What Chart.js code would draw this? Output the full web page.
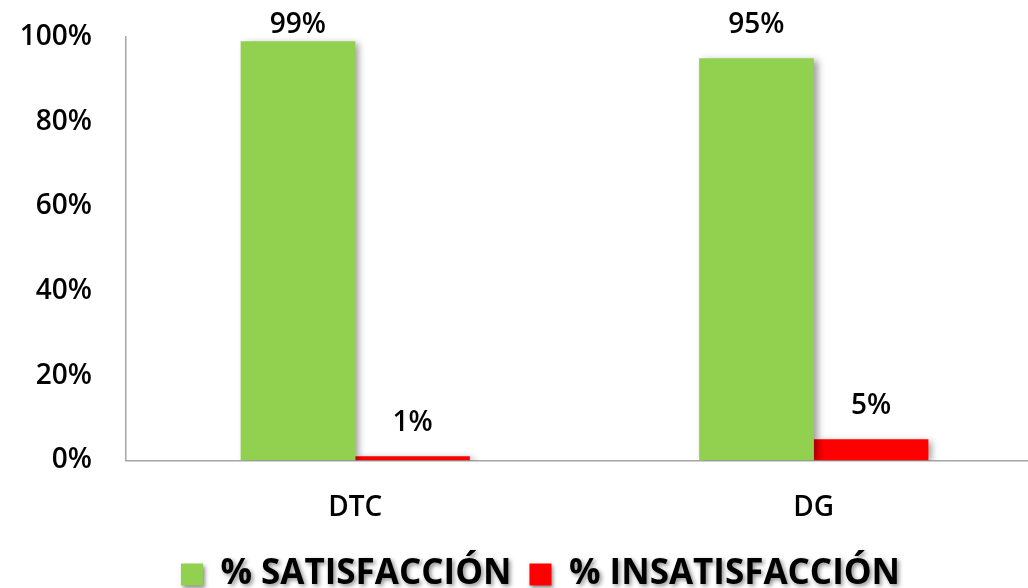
<!DOCTYPE html>
<html>
<head>
<meta charset="utf-8">
<script src="https://cdn.jsdelivr.net/npm/chart.js@4/dist/chart.umd.min.js"></script>
<style>
  html, body { margin: 0; padding: 0; background: #fff; overflow: hidden; }
  #wrap { width: 1043px; height: 588px; }
</style>
</head>
<body>
<div id="wrap"><canvas id="satChart" width="1043" height="588"></canvas></div>
<script>
// datos
const categorias = ['DTC', 'DG'];
const satisfaccion = [99, 95];
const insatisfaccion = [1, 5];
const nombres = ['% SATISFACCIÓN', '% INSATISFACCIÓN'];
const ticksY = [0, 20, 40, 60, 80, 100];

const FUENTE = "'Open Sans', 'Noto Sans', sans-serif";

// sombra de las barras
const sombraBarras = {
    id: 'sombraBarras',
    beforeDatasetsDraw(chart) {
        const ctx = chart.ctx;
        ctx.save();
        ctx.shadowColor = 'rgba(0,0,0,0.38)';
        ctx.shadowBlur = 7;
        ctx.shadowOffsetX = 4;
        ctx.shadowOffsetY = 2;
    },
    afterDatasetsDraw(chart) {
        chart.ctx.restore();
    }
};

// etiquetas de valor encima de cada barra
const etiquetas = {
    id: 'etiquetas',
    afterDatasetsDraw(chart) {
        const ctx = chart.ctx;
        ctx.save();
        ctx.font = '600 28px ' + FUENTE;
        ctx.fillStyle = '#000';
        ctx.textAlign = 'center';
        ctx.textBaseline = 'alphabetic';
        chart.data.datasets.forEach((ds, i) => {
            chart.getDatasetMeta(i).data.forEach((bar, j) => {
                let y = Math.max(bar.y - 25, chart.chartArea.top - 4);
                ctx.fillText(ds.data[j] + '%', bar.x, y);
            });
        });
        ctx.restore();
    }
};

// la leyenda: mas baja, corrida a la derecha y con sombra en el texto
const leyendaSombra = {
    id: 'leyendaSombra',
    afterInit(chart) {
        const legend = chart.legend;
        if (!legend) return;
        const fitOrig = legend.fit;
        legend.fit = function () {
            fitOrig.call(this);
            this.height -= 35;
        };
        const drawOrig = legend.draw;
        legend.draw = function (area) {
            const ctx = chart.ctx;
            const bottom = this.bottom;
            this.bottom = bottom + 60; // que no recorte el texto
            ctx.save();
            ctx.translate(19, -17);
            ctx.shadowColor = 'rgba(0,0,0,0.45)';
            ctx.shadowBlur = 4;
            ctx.shadowOffsetX = 2;
            ctx.shadowOffsetY = 2;
            drawOrig.call(this, area);
            ctx.restore();
            this.bottom = bottom;
        };
    }
};

const ctx = document.getElementById('satChart').getContext('2d');
const myChart = new Chart(ctx, {
    type: 'bar',
    data: {
        labels: categorias,
        datasets: [{
            label: nombres[0],
            data: satisfaccion,
            backgroundColor: '#92D050',
            borderWidth: 0
        }, {
            label: nombres[1],
            data: insatisfaccion,
            backgroundColor: '#FF0000',
            borderWidth: 0
        }]
    },
    options: {
        responsive: false,
        animation: false,
        devicePixelRatio: 1,
        categoryPercentage: 0.5,
        barPercentage: 1.0,
        layout: { padding: { top: 37, left: 0, right: 0, bottom: 4 } },
        scales: {
            y: {
                min: 0,
                max: 100,
                afterFit(scale) {
                    scale.width = 126;
                    scale.paddingTop = 0;
                    scale.paddingBottom = 0;
                },
                afterBuildTicks(scale) { scale.ticks = ticksY.map(v => ({ value: v })); },
                grid: { display: false, drawTicks: false },
                border: { display: true, color: '#a6a6a6', width: 1.5 },
                ticks: {
                    padding: 34,
                    color: '#000',
                    font: { family: FUENTE, size: 28, weight: '600' },
                    callback: v => v + '%'
                }
            },
            x: {
                grid: { display: false, drawTicks: false },
                border: { display: true, color: '#a6a6a6', width: 1.5 },
                ticks: {
                    padding: 31,
                    color: '#000',
                    font: { family: FUENTE, size: 28, weight: '600' }
                }
            }
        },
        plugins: {
            legend: {
                position: 'bottom',
                labels: {
                    boxWidth: 22,
                    boxHeight: 22,
                    padding: 18,
                    color: '#000',
                    font: { family: FUENTE, size: 35, weight: 'bold' }
                }
            },
            tooltip: { enabled: false }
        }
    },
    plugins: [sombraBarras, etiquetas, leyendaSombra]
});
</script>
</body>
</html>
